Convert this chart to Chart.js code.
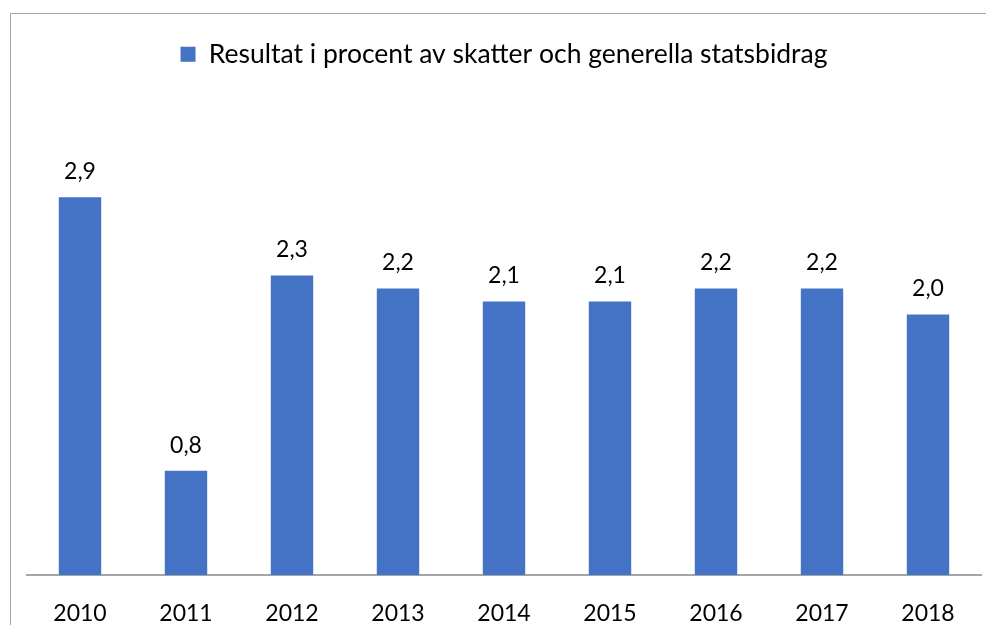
<!DOCTYPE html>
<html>
<head>
<meta charset="utf-8">
<script src="https://cdn.jsdelivr.net/npm/chart.js@4/dist/chart.umd.min.js"></script>
<style>
html,body{margin:0;padding:0;background:#fff;}
#wrap{position:relative;width:986px;height:625px;}
</style>
</head>
<body>
<div id="wrap"><canvas id="c" width="986" height="625"></canvas></div>
<script>
const categories = ['2010','2011','2012','2013','2014','2015','2016','2017','2018'];
const seriesName = 'Resultat i procent av skatter och generella statsbidrag';
const values = [2.9, 0.8, 2.3, 2.2, 2.1, 2.1, 2.2, 2.2, 2.0];

const FONT = 'Lato, Carlito, Calibri, sans-serif';

const framePlugin = {
  id: 'frame',
  beforeDraw(chart) {
    const ctx = chart.ctx;
    ctx.save();
    ctx.strokeStyle = '#a6a6a6';
    ctx.lineWidth = 1;
    ctx.beginPath();
    ctx.moveTo(10.5, 625);
    ctx.lineTo(10.5, 13.5);
    ctx.lineTo(986, 13.5);
    ctx.stroke();
    ctx.restore();
  }
};

const labelPlugin = {
  id: 'valueLabels',
  afterDatasetsDraw(chart) {
    const ctx = chart.ctx;
    const meta = chart.getDatasetMeta(0);
    ctx.save();
    ctx.fillStyle = '#000';
    ctx.font = '23px ' + FONT;
    ctx.textAlign = 'center';
    ctx.textBaseline = 'bottom';
    meta.data.forEach((bar, i) => {
      const v = chart.data.datasets[0].data[i];
      ctx.fillText(v.toFixed(1).replace('.', ','), bar.x, bar.y - 14);
    });
    ctx.restore();
  }
};

new Chart(document.getElementById('c'), {
  type: 'bar',
  data: {
    labels: categories,
    datasets: [{
      label: seriesName,
      data: values,
      backgroundColor: '#4472C4',
      borderWidth: 0,
      categoryPercentage: 0.4,
      barPercentage: 1.0
    }]
  },
  options: {
    responsive: false,
    animation: false,
    devicePixelRatio: 1,
    layout: { padding: { left: 27, right: 5, top: 31, bottom: 0 } },
    plugins: {
      legend: {
        display: true,
        position: 'top',
        labels: {
          font: { family: FONT, size: 26.5 },
          color: '#000',
          boxWidth: 15,
          boxHeight: 15,
          padding: 10
        }
      },
      tooltip: { enabled: false }
    },
    scales: {
      x: {
        grid: { display: false },
        border: { display: true, color: '#a6a6a6', width: 2 },
        ticks: { font: { family: FONT, size: 23 }, color: '#000', padding: 17, maxRotation: 0 },
        afterFit(scale) { scale.height = 50; }
      },
      y: {
        display: false,
        min: 0,
        max: 3.82
      }
    }
  },
  plugins: [framePlugin, labelPlugin]
});
</script>
</body>
</html>
